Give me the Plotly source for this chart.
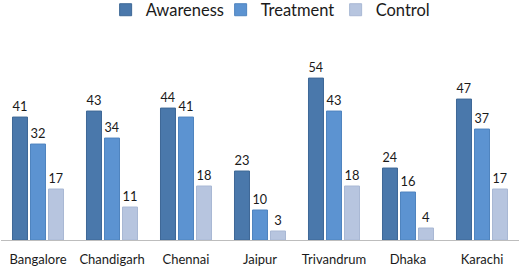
import plotly.graph_objects as go

cities = ["Bangalore", "Chandigarh", "Chennai", "Jaipur", "Trivandrum", "Dhaka", "Karachi"]
awareness = [41, 43, 44, 23, 54, 24, 47]
treatment = [32, 34, 41, 10, 43, 16, 37]
control = [17, 11, 18, 3, 18, 4, 17]

series = [
    ("Awareness", awareness, "#4a78ab", "#3e6896"),
    ("Treatment", treatment, "#5c93d1", "#4f84bf"),
    ("Control", control, "#b7c5df", "#a9b8d4"),
]

fig = go.Figure()
for name, vals, col, line in series:
    fig.add_trace(go.Bar(
        name=name, x=cities, y=vals,
        marker=dict(color=col, line=dict(color=line, width=1)),
        text=vals, textposition="outside", cliponaxis=False,
        textfont=dict(size=13, color="#1a1a1a", family="Lato, sans-serif"),
    ))

fig.update_layout(
    width=520, height=266,
    margin=dict(l=1, r=1, t=40, b=26, autoexpand=False),
    paper_bgcolor="white", plot_bgcolor="white",
    barmode="group", bargap=0.27, bargroupgap=0.167,
    font=dict(family="Lato, sans-serif", color="#1a1a1a"),
    legend=dict(orientation="h", x=0.535, xanchor="center", y=1.15, yanchor="middle",
                font=dict(size=16.5, color="#1a1a1a"), itemwidth=30, entrywidth=70,
                tracegroupgap=0, bgcolor="rgba(0,0,0,0)"),
    xaxis=dict(showgrid=False, showline=True, linecolor="#bdbdbd", linewidth=1,
               ticks="outside", ticklen=7, tickcolor="rgba(0,0,0,0)",
               tickfont=dict(size=13, color="#1a1a1a"), automargin=False),
    yaxis=dict(visible=False, range=[0, 66.7]),
)

fig.write_html("out.html", config={"displayModeBar": False},
               post_script="document.body.style.margin='0';document.body.style.overflow='hidden';")
